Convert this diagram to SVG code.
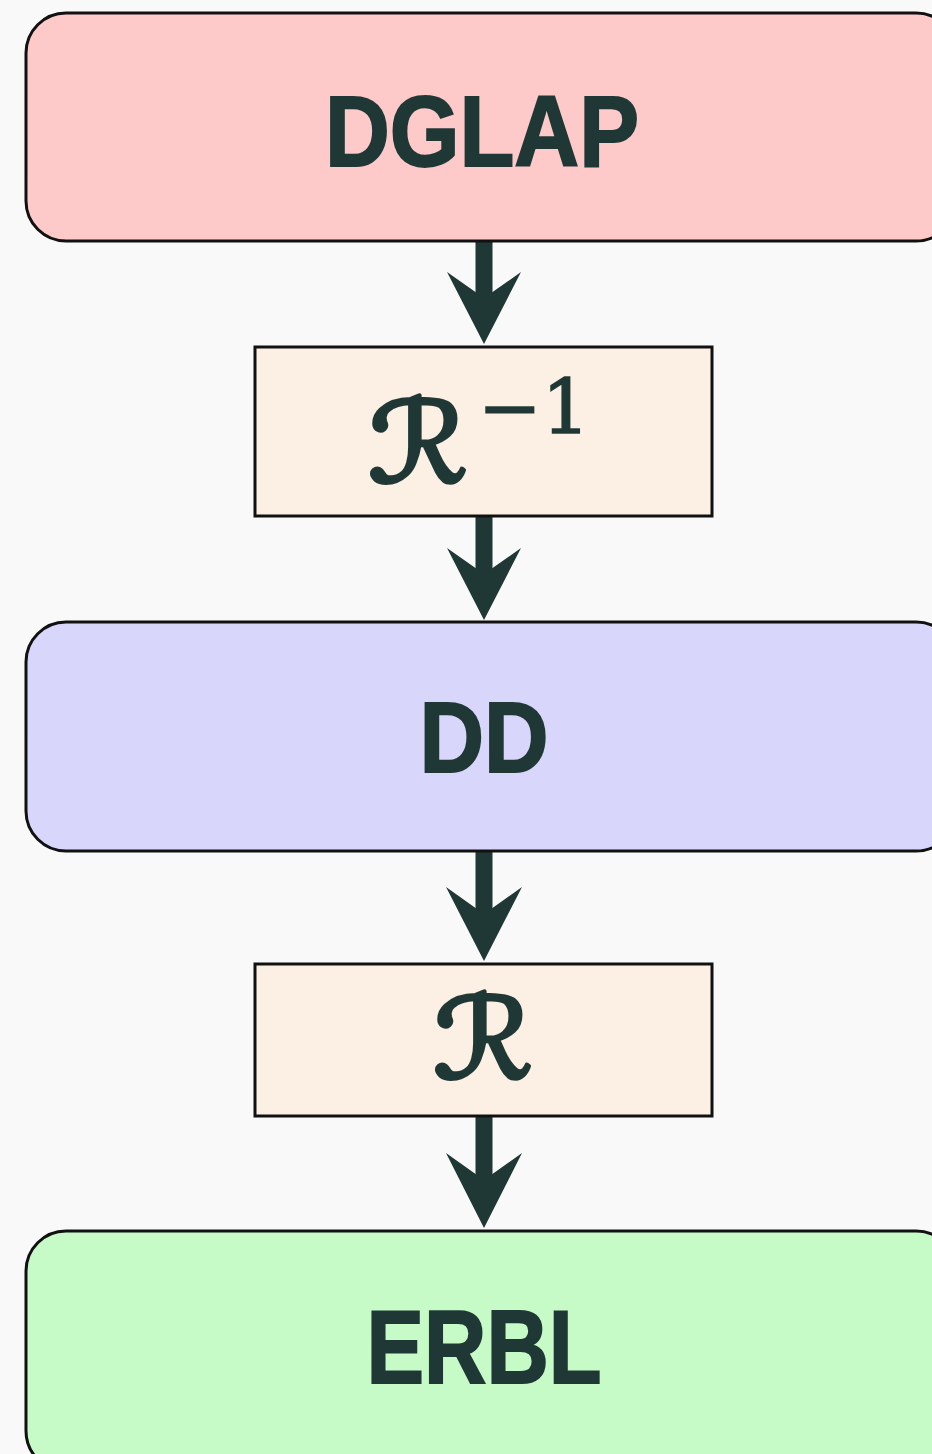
<svg xmlns="http://www.w3.org/2000/svg" width="932" height="1454" viewBox="0 0 932 1454">
  <style>
    .stage { stroke: #111; stroke-width: 3; }
    .op { stroke: #111; stroke-width: 3; fill: #fcefe4; }
    .label { font-family: "Liberation Sans", "DejaVu Sans", sans-serif; font-weight: bold; fill: #1f3836; stroke: #1f3836; stroke-width: 2; }
    .script { font-family: "DejaVu Sans", "Noto Sans", sans-serif; fill: #1f3836; stroke: #1f3836; stroke-width: 4; stroke-linejoin: round; }
    .sup { font-family: "DejaVu Serif", "Liberation Serif", serif; fill: #1f3836; stroke: #1f3836; stroke-width: 1.5; }
    .shaft { stroke: #1f3836; stroke-width: 17; fill: none; }
    .head { fill: #1f3836; }
  </style>
  <rect width="932" height="1454" fill="#f9f9f9"/>

  <g id="connectors">
    <line class="shaft" x1="484" y1="241" x2="484" y2="310"/>
    <path class="head" d="M484 344 L447 272 L484 298 L521 272 Z"/>
    <line class="shaft" x1="484" y1="516" x2="484" y2="585"/>
    <path class="head" d="M484 620 L447 548 L484 574 L521 548 Z"/>
    <line class="shaft" x1="484" y1="851" x2="484" y2="925"/>
    <path class="head" d="M484 961 L446 887 L484 914 L522 887 Z"/>
    <line class="shaft" x1="484" y1="1116" x2="484" y2="1190"/>
    <path class="head" d="M484 1228 L446 1153 L484 1180 L522 1153 Z"/>
  </g>

  <g id="dglap">
    <rect class="stage" x="26" y="13" width="930" height="228" rx="40" fill="#fdc9c9"/>
    <text class="label" x="482" y="166" font-size="100" text-anchor="middle" textLength="314" lengthAdjust="spacingAndGlyphs">DGLAP</text>
  </g>

  <g id="r-inverse">
    <rect class="op" x="255" y="347" width="457" height="169"/>
    <text class="script" x="418" y="482" font-size="112" text-anchor="middle" textLength="100" lengthAdjust="spacingAndGlyphs">ℛ</text>
    <text class="sup" x="478" y="433" font-size="74" textLength="112" lengthAdjust="spacingAndGlyphs">−1</text>
  </g>

  <g id="dd">
    <rect class="stage" x="26" y="622" width="930" height="229" rx="40" fill="#d8d6fb"/>
    <text class="label" x="484" y="772" font-size="100" text-anchor="middle" textLength="129" lengthAdjust="spacingAndGlyphs">DD</text>
  </g>

  <g id="r">
    <rect class="op" x="255" y="964" width="457" height="152"/>
    <text class="script" x="483" y="1078" font-size="112" text-anchor="middle" textLength="100" lengthAdjust="spacingAndGlyphs">ℛ</text>
  </g>

  <g id="erbl">
    <rect class="stage" x="26" y="1231" width="930" height="240" rx="40" fill="#c6fac6"/>
    <text class="label" x="484" y="1383" font-size="104" text-anchor="middle" textLength="235" lengthAdjust="spacingAndGlyphs">ERBL</text>
  </g>
</svg>
